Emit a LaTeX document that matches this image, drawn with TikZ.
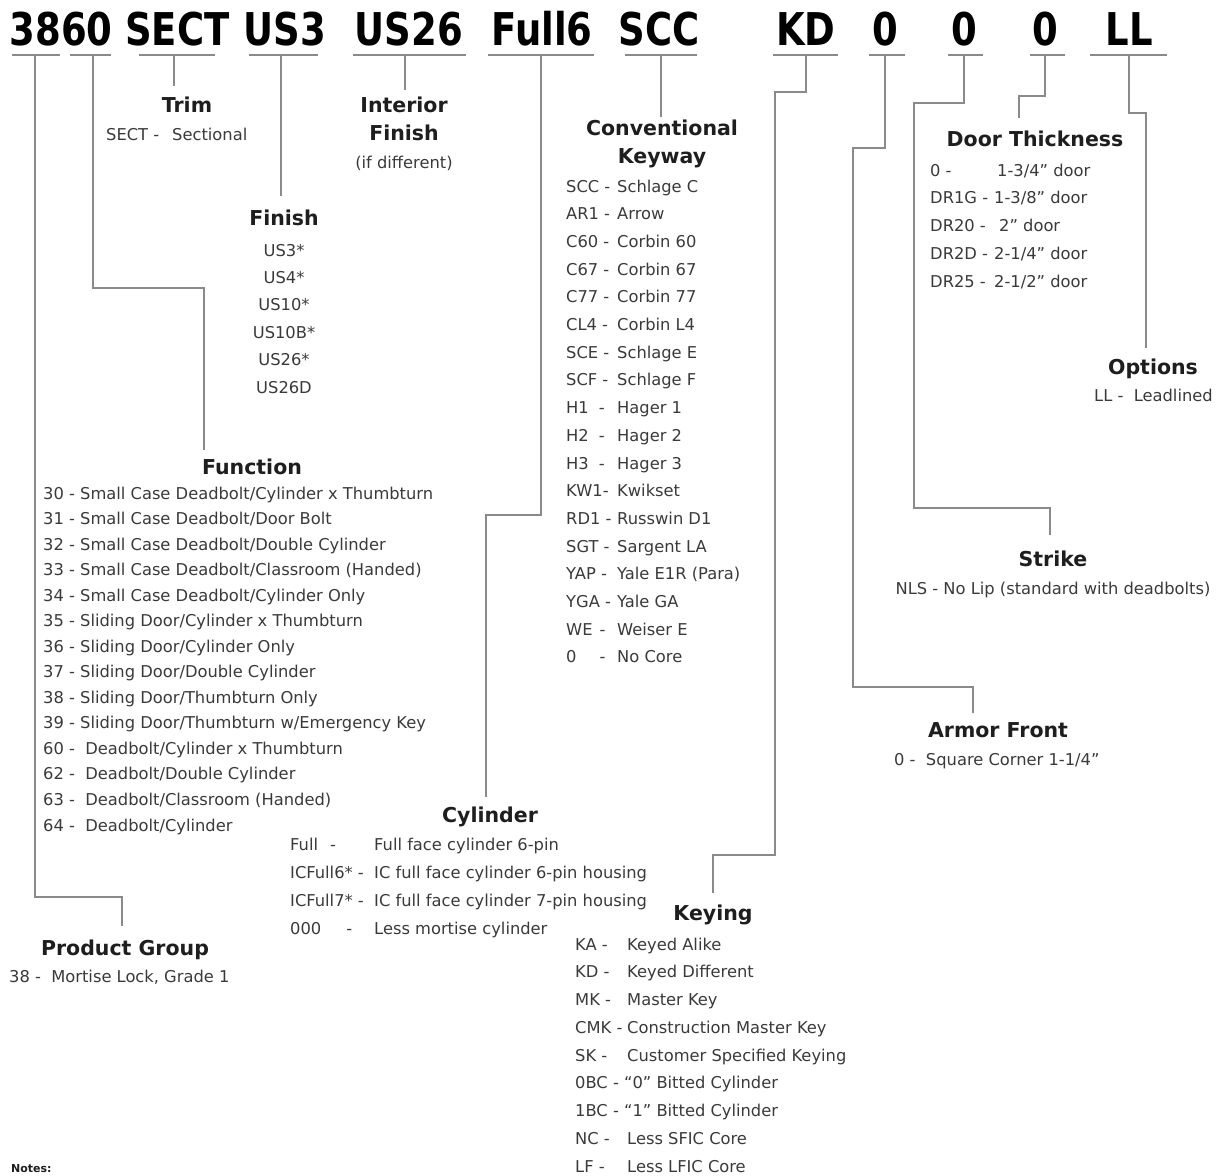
\documentclass[tikz,border=0pt]{standalone}
\usepackage{fontspec}
\setmainfont{DejaVu Sans}
\definecolor{lnc}{HTML}{8A8A8A}
\definecolor{hdc}{HTML}{1E1E1E}
\definecolor{bdc}{HTML}{3A3A3A}
\begin{document}
\begin{tikzpicture}[x=1pt,y=-1pt,
  code/.style={font=\fontsize{37}{40}\selectfont\bfseries,text=black,inner sep=0pt,anchor=base},
  hdr/.style={font=\fontsize{20.5}{24}\selectfont\bfseries,text=hdc,inner sep=0pt,anchor=base},
  bod/.style={font=\fontsize{16.3}{20}\selectfont,text=bdc,inner sep=0pt,anchor=base west},
  bodc/.style={bod,anchor=base},
  conn/.style={draw=lnc,line width=1.8pt},
  uline/.style={draw=lnc,line width=1.8pt},
]
\clip (0,0) rectangle (1220,1175);
\fill[white] (0,0) rectangle (1220,1175);

% ---------- code row ----------
\foreach \n/\t/\x in {c3860/3860/61, cSECT/SECT/177.5, cUS3/US3/285, cUSb/US26/409,
  cFull/Full6/542, cSCC/SCC/659, cKD/KD/806, cZa/0/885, cZb/0/964, cZc/0/1045, cLL/LL/1129}
  \node[code] (\n) at (\x,45) {\scalebox{1}[1.22]{\t}};

% underline end points and connector starts
\foreach \n/\a/\b/\s in {u38/12/60/35, u60/70/111/93, uSECT/139/215/174, uUS3/249/318/281,
  uUSb/353/466/405, uFull/488/594/541, uSCC/625/697/661, uKD/773/838/806,
  uZa/869/905/885, uZb/948/983/964, uZc/1030/1065/1045, uLL/1090/1167/1129}
{
  \coordinate (\n L) at (\a,55);
  \coordinate (\n R) at (\b,55);
  \coordinate (\n S) at (\s,55);
  \draw[uline] (\n L) -- (\n R);
}

% ---------- headers ----------
\node[hdr] (hTrim) at (187,112.5) {Trim};
\node[hdr] (hInt1) at (404,112.5) {Interior};
\node[hdr] (hInt2) at (404,140.5) {Finish};
\node[hdr] (hFin) at (284,225.5) {Finish};
\node[hdr] (hKw1) at (662,135.5) {Conventional};
\node[hdr] (hKw2) at (662,163.5) {Keyway};
\node[hdr] (hDoor) at (1035,146.5) {Door Thickness};
\node[hdr] (hOpt) at (1153,374.5) {Options};
\node[hdr] (hFun) at (252,474.5) {Function};
\node[hdr] (hStr) at (1053,566.5) {Strike};
\node[hdr] (hArm) at (998,737.5) {Armor Front};
\node[hdr] (hCyl) at (490,822.5) {Cylinder};
\node[hdr] (hKey) at (713,920.5) {Keying};
\node[hdr] (hPG) at (125,955.5) {Product Group};

% ---------- connector end points ----------
\coordinate (ePGj) at (122,897);  \coordinate (ePG) at (122,926);
\coordinate (eFunj) at (204,288); \coordinate (eFun) at (204,450);
\coordinate (eTrim) at (174,86);
\coordinate (eFin) at (281,196);
\coordinate (eInt) at (405,90);
\coordinate (eCylj) at (541,515); \coordinate (eCyl) at (486,797);
\coordinate (eKw) at (661,117);
\coordinate (eKDj) at (806,92); \coordinate (eKDk) at (775,855); \coordinate (eKey) at (713,893);
\coordinate (eArmj) at (885,148); \coordinate (eArmk) at (853,687); \coordinate (eArm) at (973,713);
\coordinate (eStrj) at (964,103); \coordinate (eStrk) at (914,508); \coordinate (eStr) at (1050,535);
\coordinate (eDoorj) at (1045,96); \coordinate (eDoor) at (1019,118);
\coordinate (eOptj) at (1129,113); \coordinate (eOpt) at (1146,348);

\draw[conn] (u38S) |- (ePGj) -- (ePG);
\draw[conn] (u60S) |- (eFunj) -- (eFun);
\draw[conn] (uSECTS) -- (eTrim);
\draw[conn] (uUS3S) -- (eFin);
\draw[conn] (uUSbS) -- (eInt);
\draw[conn] (uFullS) -- (eCylj) -| (eCyl);
\draw[conn] (uSCCS) -- (eKw);
\draw[conn] (uKDS) -- (eKDj) -| (eKDk) -| (eKey);
\draw[conn] (uZaS) -- (eArmj) -| (eArmk) -| (eArm);
\draw[conn] (uZbS) -- (eStrj) -| (eStrk) -| (eStr);
\draw[conn] (uZcS) -- (eDoorj) -| (eDoor);
\draw[conn] (uLLS) -- (eOptj) -| (eOpt);

% ---------- body texts ----------
% Trim
\node[bod] (tTrimA) at (106,140) {SECT -};
\node[bod] (tTrimB) at (172,140) {Sectional};
% Interior finish
\node[bodc] (tInt) at (404,168) {(if different)};
% Finish
\foreach \t [count=\i] in {US3*, US4*, US10*, US10B*, US26*, US26D}
  \node[bodc] (fin\i) at (284,{256+(\i-1)*27.4}) {\t};
% Conventional keyway
\foreach \c/\d [count=\i] in {SCC -/Schlage C, AR1 -/Arrow, C60 -/Corbin 60, C67 -/Corbin 67,
  C77 -/Corbin 77, CL4 -/Corbin L4, SCE -/Schlage E, SCF -/Schlage F,
  H1\hspace*{10pt}-/Hager 1, H2\hspace*{10pt}-/Hager 2, H3\hspace*{10pt}-/Hager 3,
  KW1-/Kwikset, RD1 -/Russwin D1, SGT -/Sargent LA, YAP -/Yale E1R (Para),
  YGA -/Yale GA, WE\hspace*{7pt}-/Weiser E, 0\hspace*{23pt}-/No Core}
{
  \node[bod] (kwc\i) at (566,{192+(\i-1)*27.7}) {\c};
  \node[bod] (kwd\i) at (617,{192+(\i-1)*27.7}) {\d};
}
% Door thickness
\node[bod] (dc1) at (930,176) {0 -};      \node[bod] (dd1) at (997,176) {1-3/4” door};
\node[bod] (dc2) at (930,203.75) {DR1G -}; \node[bod] (dd2) at (994,203.75) {1-3/8” door};
\node[bod] (dc3) at (930,231.5) {DR20 -};  \node[bod] (dd3) at (999,231.5) {2” door};
\node[bod] (dc4) at (930,259.25) {DR2D -}; \node[bod] (dd4) at (994,259.25) {2-1/4” door};
\node[bod] (dc5) at (930,287) {DR25 -};    \node[bod] (dd5) at (994,287) {2-1/2” door};
% Options
\node[bod] (tOpt) at (1094,401) {LL -\ \ Leadlined};
% Function
\foreach \t [count=\i] in {30 - Small Case Deadbolt/Cylinder x Thumbturn,
  31 - Small Case Deadbolt/Door Bolt,
  32 - Small Case Deadbolt/Double Cylinder,
  33 - Small Case Deadbolt/Classroom (Handed),
  34 - Small Case Deadbolt/Cylinder Only,
  35 - Sliding Door/Cylinder x Thumbturn,
  36 - Sliding Door/Cylinder Only,
  37 - Sliding Door/Double Cylinder,
  38 - Sliding Door/Thumbturn Only,
  39 - Sliding Door/Thumbturn w/Emergency Key,
  60 -\ \ Deadbolt/Cylinder x Thumbturn,
  62 -\ \ Deadbolt/Double Cylinder,
  63 -\ \ Deadbolt/Classroom (Handed),
  64 -\ \ Deadbolt/Cylinder}
  \node[bod] (fn\i) at (43,{499+(\i-1)*25.54}) {\t};
% Strike
\node[bodc] (tStr) at (1053,594) {NLS - No Lip (standard with deadbolts)};
% Armor front
\node[bod] (tArm) at (894,765) {0 -\ \ Square Corner 1-1/4”};
% Cylinder
\node[bod] (cyc1) at (290,850) {Full\hspace*{12pt}-};    \node[bod] (cyd1) at (374,850) {Full face cylinder 6-pin};
\node[bod] (cyc2) at (290,878) {ICFull6* -};             \node[bod] (cyd2) at (374,878) {IC full face cylinder 6-pin housing};
\node[bod] (cyc3) at (290,906) {ICFull7* -};             \node[bod] (cyd3) at (374,906) {IC full face cylinder 7-pin housing};
\node[bod] (cyc4) at (290,934) {000\hspace*{25pt}-};     \node[bod] (cyd4) at (374,934) {Less mortise cylinder};
% Keying
\node[bod] (kyc1) at (575,950) {KA -};   \node[bod] (kyd1) at (627,950) {Keyed Alike};
\node[bod] (kyc2) at (575,977.75) {KD -};   \node[bod] (kyd2) at (627,977.75) {Keyed Different};
\node[bod] (kyc3) at (575,1005.5) {MK -};   \node[bod] (kyd3) at (627,1005.5) {Master Key};
\node[bod] (kyc4) at (575,1033.25) {CMK -}; \node[bod] (kyd4) at (627,1033.25) {Construction Master Key};
\node[bod] (kyc5) at (575,1061) {SK -};     \node[bod] (kyd5) at (627,1061) {Customer Specified Keying};
\node[bod] (kyc6) at (575,1088.75) {0BC - “0” Bitted Cylinder};
\node[bod] (kyc7) at (575,1116.5) {1BC - “1” Bitted Cylinder};
\node[bod] (kyc8) at (575,1144.25) {NC -};  \node[bod] (kyd8) at (627,1144.25) {Less SFIC Core};
\node[bod] (kyc9) at (575,1172) {LF -};    \node[bod] (kyd9) at (627,1172) {Less LFIC Core};
% Product group
\node[bod] (tPG) at (9,982) {38 -\ \ Mortise Lock, Grade 1};
% Notes (at the bottom edge)
\node[font=\fontsize{11}{13}\selectfont\bfseries,text=hdc,inner sep=0pt,anchor=base west] (notes) at (11,1172) {Notes:};
\end{tikzpicture}
\end{document}
